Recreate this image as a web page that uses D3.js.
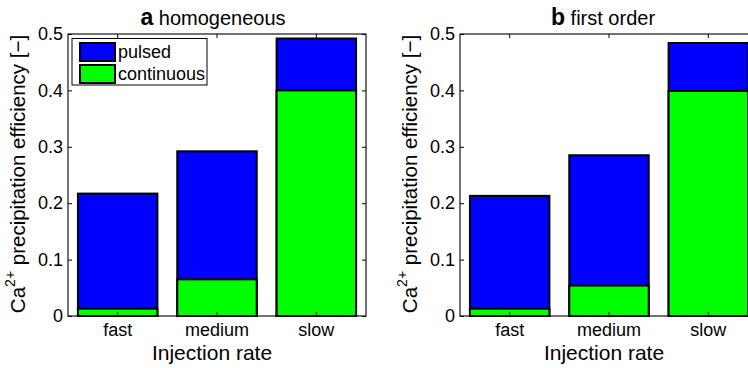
<!DOCTYPE html>
<html>
<head>
<meta charset="utf-8">
<script src="https://cdn.jsdelivr.net/npm/d3@7"></script>
<style>
  html, body { margin: 0; padding: 0; background: #fff; overflow: hidden; }
  svg { display: block; font-family: "Liberation Sans", Arial, Helvetica, sans-serif; }
</style>
</head>
<body>
<svg id="chart" width="748" height="368"></svg>
<script>
// Injection-rate categories shared by both panels
const categories = ["fast", "medium", "slow"];
const yTicks = [0, 0.1, 0.2, 0.3, 0.4, 0.5];
const seriesNames = ["pulsed", "continuous"];

// Panel a: homogeneous
const pulsedHomogeneous = [0.217, 0.292, 0.492];
const continuousHomogeneous = [0.013, 0.065, 0.400];

// Panel b: first order
const pulsedFirstOrder = [0.213, 0.285, 0.484];
const continuousFirstOrder = [0.013, 0.054, 0.399];

const panels = [
  { letter: "a", title: "homogeneous", pulsed: pulsedHomogeneous, continuous: continuousHomogeneous, left: 68, titleShift: -4, legend: true },
  { letter: "b", title: "first order", pulsed: pulsedFirstOrder, continuous: continuousFirstOrder, left: 460, titleShift: -6, legend: false }
];

const colors = { pulsed: "#0000ff", continuous: "#00ff00" };
const plotW = 298, plotTop = 34, plotBottom = 316;
const fontFamily = "Liberation Sans, Arial, sans-serif";

const svg = d3.select("#chart");

panels.forEach(p => {
  const x = d3.scaleBand().domain(categories).range([p.left, p.left + plotW]).paddingInner(0.2).paddingOuter(0.1);
  const y = d3.scaleLinear().domain([0, 0.5]).range([plotBottom, plotTop]);
  const g = svg.append("g");

  // bars: pulsed drawn full height, continuous overlaid from zero
  g.selectAll(".pulsed").data(categories).join("rect").attr("class", "pulsed")
    .attr("x", d => x(d)).attr("width", x.bandwidth())
    .attr("y", (d, i) => y(p.pulsed[i]))
    .attr("height", (d, i) => y(0) - y(p.pulsed[i]))
    .attr("fill", colors.pulsed).attr("stroke", "#000").attr("stroke-width", 2);
  g.selectAll(".cont").data(categories).join("rect").attr("class", "cont")
    .attr("x", d => x(d)).attr("width", x.bandwidth())
    .attr("y", (d, i) => y(p.continuous[i]))
    .attr("height", (d, i) => y(0) - y(p.continuous[i]))
    .attr("fill", colors.continuous).attr("stroke", "#000").attr("stroke-width", 2);

  // axes box (left, bottom, top, right) with inward ticks
  const left = g.append("g").attr("transform", `translate(${p.left},0)`)
    .call(d3.axisLeft(y).tickValues(yTicks).tickFormat(d => d === 0 ? "0" : d3.format(".1f")(d)).tickSize(-4).tickPadding(5));
  const right = g.append("g").attr("transform", `translate(${p.left + plotW},0)`)
    .call(d3.axisRight(y).tickValues(yTicks).tickFormat("").tickSize(-4));
  const topAx = g.append("g").attr("transform", `translate(0,${plotTop})`)
    .call(d3.axisTop(x).tickSize(-4).tickFormat(""));
  const botAx = g.append("g").attr("transform", `translate(0,${plotBottom})`)
    .call(d3.axisBottom(x).tickSize(-4));

  [left, right, topAx, botAx].forEach(a => {
    a.select(".domain").remove();
    a.selectAll(".tick line").attr("stroke", "#000").attr("stroke-width", 1);
    a.selectAll("text").attr("fill", "#000").attr("font-size", 18).attr("font-family", fontFamily);
  });
  botAx.selectAll("text").attr("y", 20).attr("dy", 0);
  g.append("rect").attr("x", p.left).attr("y", plotTop).attr("width", plotW).attr("height", plotBottom - plotTop)
    .attr("fill", "none").attr("stroke", "#000").attr("stroke-width", 1.1);

  // title
  const cx = p.left + plotW / 2;
  const t = g.append("text").attr("x", cx + p.titleShift).attr("y", 25).attr("text-anchor", "middle").attr("fill", "#000");
  t.append("tspan").attr("font-weight", "bold").attr("font-size", 23).text(p.letter);
  t.append("tspan").attr("font-size", 20).text(" " + p.title);

  // x label
  g.append("text").attr("x", cx - 5).attr("y", 360).attr("text-anchor", "middle")
    .attr("font-size", 21).attr("fill", "#000").text("Injection rate");

  // y label with superscript
  const yl = g.append("text").attr("transform", `translate(${p.left - 43},${(plotTop + plotBottom) / 2 - 1}) rotate(-90)`)
    .attr("text-anchor", "middle").attr("font-size", 20.5).attr("fill", "#000");
  yl.append("tspan").text("Ca");
  yl.append("tspan").attr("font-size", 14).attr("dy", -10).text("2+");
  yl.append("tspan").attr("dy", 10).text(" precipitation efficiency [\u2212]");

  // legend
  if (p.legend) {
    const lg = g.append("g");
    lg.append("rect").attr("x", 72).attr("y", 38.5).attr("width", 135).attr("height", 46.5)
      .attr("fill", "#fff").attr("stroke", "#000").attr("stroke-width", 1);
    seriesNames.forEach((s, i) => {
      const yy = 43 + i * 22;
      lg.append("rect").attr("x", 80).attr("y", yy).attr("width", 35).attr("height", 18)
        .attr("fill", colors[s]).attr("stroke", "#000").attr("stroke-width", 2);
      lg.append("text").attr("x", 118).attr("y", yy + 14.5).attr("font-size", 18).attr("fill", "#000").text(s);
    });
  }
});
</script>
</body>
</html>
